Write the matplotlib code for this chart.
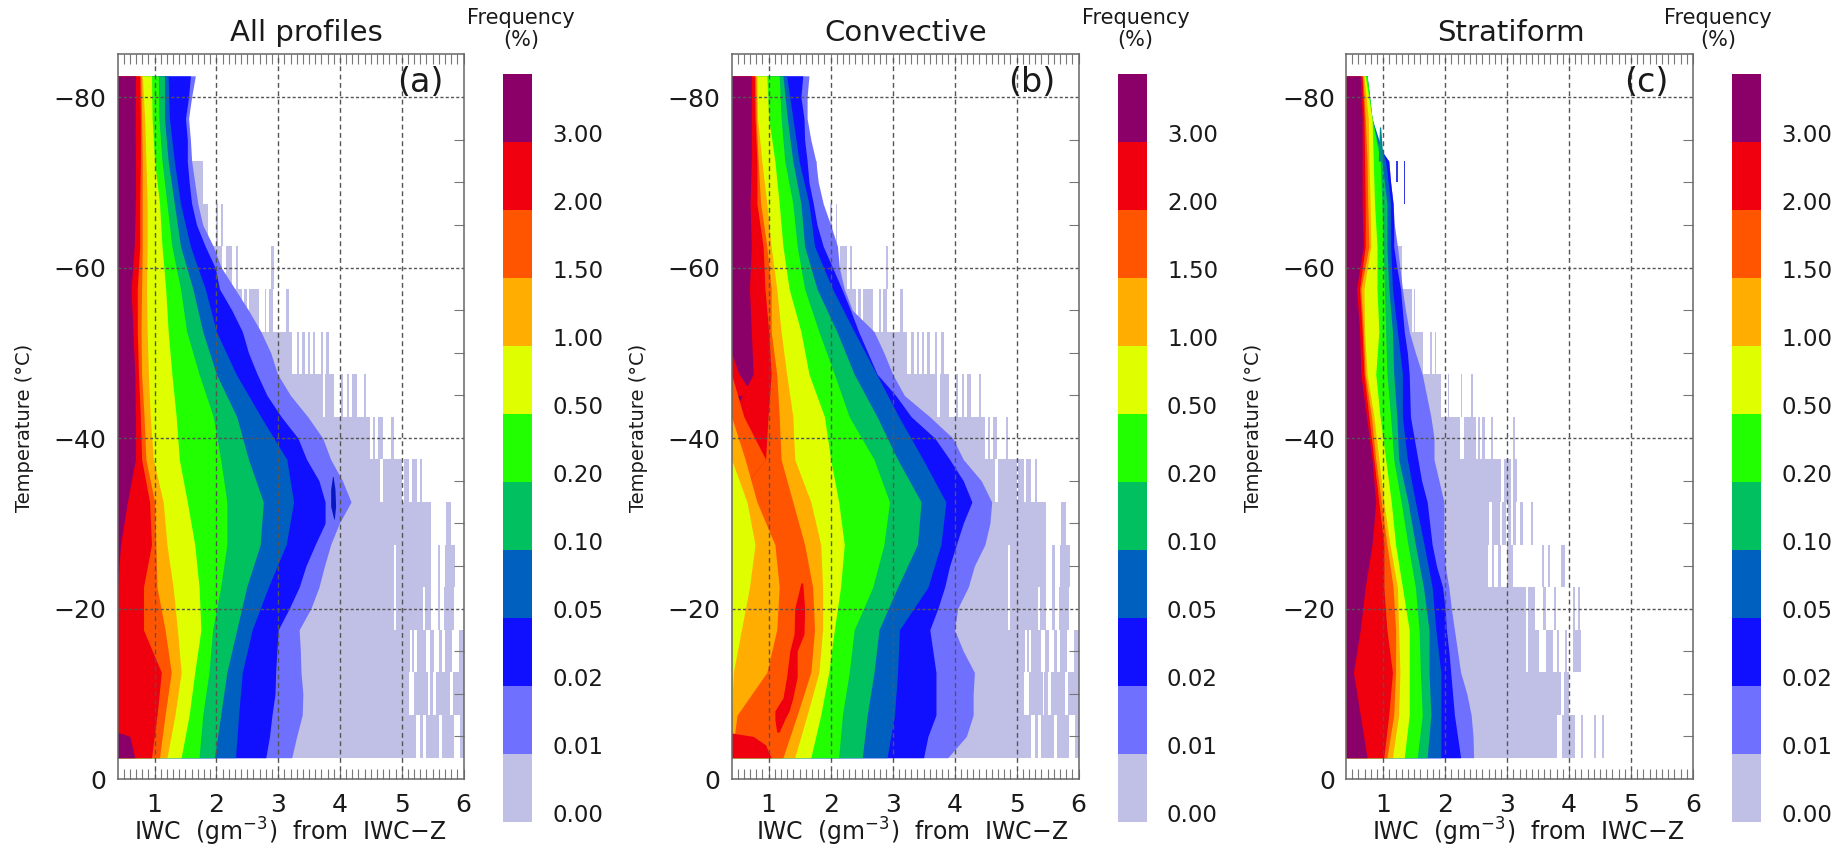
import matplotlib
matplotlib.use("Agg")
import matplotlib.pyplot as plt

W, H = 1845, 846
FONT = "DejaVu Sans"
plt.rcParams["font.family"] = [FONT]
plt.rcParams["mathtext.fontset"] = "custom"
plt.rcParams["mathtext.rm"] = FONT
plt.rcParams["mathtext.default"] = "regular"

# Frequency classes, low to high
LEVEL_LABELS = ["0.00", "0.01", "0.02", "0.05", "0.10", "0.20", "0.50", "1.00", "1.50", "2.00", "3.00"]
LEVEL_COLORS = ["#C0C0E6", "#7070FF", "#1010FF", "#0060C0", "#00C060", "#22FF00",
                "#DFFF00", "#FFAD00", "#FF5500", "#F0000F", "#8B0068"]
C_PALE, C_LIGHT, C_PURE, C_BLUE, C_SEA, C_GREEN, C_YELLOW, C_ORANGE, C_ORRED, C_RED, C_PURPLE = LEVEL_COLORS

T5 = [-82.5, -77.5, -72.5, -67.5, -62.5, -57.5, -52.5, -47.5, -42.5, -37.5, -32.5,
      -27.5, -22.5, -17.5, -12.5, -7.5, -2.5]
T25 = [-82.5, -80, -77.5, -75, -72.5, -70, -67.5, -65, -62.5, -60, -57.5, -55, -52.5, -50, -47.5, -45,
       -42.5, -40, -37.5, -35, -32.5, -30, -27.5, -25, -22.5, -20, -17.5, -15, -12.5, -10, -7.5, -5, -2.5]

# ---- Panel (a): right edge (IWC) of each class at each T5 level
A_PURPLE = [.69, .69, .69, .69, .67, .62, .65, .68, .69, .69, .56, .45, .40, .40, .40, .40, .40]
A_RED    = [.76, .77, .77, .76, .76, .72, .72, .74, .77, .79, .92, .95, .82, .82, 1.11, 1.04, .95]
A_ORRED  = [.78, .79, .80, .80, .80, .79, .78, .79, .83, .86, 1.0, 1.02, 1.04, 1.17, 1.27, 1.17, 1.08]
A_ORANGE = [.80, .84, .86, .88, .88, .87, .88, .90, .93, .98, 1.14, 1.2, 1.3, 1.37, 1.43, 1.33, 1.2]
A_YELLOW = [.95, .96, 1.0, 1.08, 1.12, 1.18, 1.22, 1.28, 1.35, 1.40, 1.53, 1.65, 1.72, 1.75, 1.65, 1.56, 1.43]
A_GREEN  = [1.06, 1.07, 1.12, 1.20, 1.28, 1.42, 1.52, 1.72, 1.95, 2.07, 2.17, 2.17, 2.07, 1.94, 1.88, 1.78, 1.72]
A_SEA    = [1.16, 1.16, 1.22, 1.32, 1.42, 1.62, 1.78, 2.0, 2.33, 2.52, 2.76, 2.71, 2.49, 2.33, 2.17, 2.07, 1.97]
A_BLUE   = [1.22, 1.24, 1.32, 1.42, 1.58, 1.82, 2.0, 2.32, 2.72, 3.14, 3.25, 3.13, 2.84, 2.58, 2.42, 2.36, 2.31]
A_PURE   = [1.58, 1.55, 1.50, 1.53, 1.53, 1.56, 1.60, 1.68, 1.82, 1.98, 2.05, 2.25, 2.42, 2.52, 2.66, 2.82,
            3.05, 3.32, 3.46, 3.66, 3.76, 3.76, 3.60, 3.45, 3.34, 3.18, 3.0, 2.98, 2.96, 2.95, 2.90, 2.86, 2.80]
A_LIGHT  = [1.66, 1.60, 1.55, 1.58, 1.60, 1.65, 1.70, 1.78, 1.95, 2.08, 2.30, 2.52, 2.72, 2.88, 2.99, 3.20,
            3.48, 3.72, 3.85, 4.04, 4.18, 3.99, 3.85, 3.75, 3.66, 3.53, 3.34, 3.36, 3.37, 3.40, 3.39, 3.30, 3.22]
A_ISLAND_T = [-35.5, -34, -32, -30.5]
A_ISLAND_L = [3.88, 3.85, 3.85, 3.90]
A_ISLAND_R = [3.89, 3.92, 3.93, 3.91]
A_FOOT_T = [-5.5, -5, -2.5]
A_FOOT_X = [.40, .60, .68]

# ---- Panel (b)
B_PURPLE = [.72, .72, .72, .70, .72, .69, .72, .75, .40, .40, .40, .40, .40, .40, .40, .40, .40]
B_RED    = [.77, .78, .81, .81, .91, .94, 1.0, 1.04, .99, .95, .40, .40, .40, .40, .40, .40, .40]
B_ORRED  = [.79, .80, .83, .87, .97, 1.04, 1.04, 1.13, 1.17, 1.20, 1.39, 1.58, 1.71, 1.74, 1.68, 1.46, 1.23]
B_ORANGE = [.81, .82, .89, .97, 1.04, 1.13, 1.2, 1.29, 1.39, 1.42, 1.68, 1.84, 1.87, 1.87, 1.81, 1.62, 1.42]
B_YELLOW = [.97, 1.0, 1.1, 1.17, 1.23, 1.33, 1.52, 1.65, 1.9, 2.0, 2.13, 2.22, 2.16, 2.06, 1.97, 1.84, 1.68]
B_GREEN  = [1.17, 1.2, 1.26, 1.39, 1.46, 1.58, 1.81, 2.06, 2.3, 2.70, 2.95, 2.86, 2.68, 2.38, 2.30, 2.19, 2.13]
B_SEA    = [1.23, 1.3, 1.39, 1.52, 1.58, 1.78, 2.1, 2.38, 2.75, 3.08, 3.46, 3.40, 3.08, 2.78, 2.70, 2.59, 2.51]
B_BLUE   = [1.29, 1.39, 1.49, 1.65, 1.74, 2.03, 2.38, 2.74, 3.10, 3.49, 3.86, 3.78, 3.57, 3.11, 3.08, 3.03, 2.91]
B_PURE   = [1.55, 1.52, 1.57, 1.58, 1.62, 1.65, 1.72, 1.78, 1.88, 2.03, 2.18, 2.32, 2.45, 2.60, 2.75, 3.05,
            3.30, 3.68, 3.92, 4.14, 4.28, 4.14, 4.03, 3.92, 3.84, 3.73, 3.60, 3.65, 3.70, 3.70, 3.70, 3.57, 3.50]
B_LIGHT  = [1.65, 1.62, 1.62, 1.68, 1.76, 1.80, 1.88, 2.0, 2.11, 2.14, 2.22, 2.35, 2.70, 2.86, 3.0, 3.19,
            3.60, 3.97, 4.14, 4.43, 4.60, 4.57, 4.49, 4.32, 4.22, 4.05, 4.0, 4.14, 4.32, 4.30, 4.30, 4.19, 3.89]
# Low-IWC side of panel (b): classes re-entered towards small IWC
B_LEFT_ORRED  = [.40, .40, .40, .40, .40, .40, .40, .40, .60, .95, .40, .40, .40, .40, .40, .40, .40]
B_LEFT_ORANGE = [.40, .40, .40, .40, .40, .40, .40, .40, .40, .62, .81, 1.10, 1.17, 1.13, .97, .49, .40]
B_LEFT_YELLOW = [.40, .40, .40, .40, .40, .40, .40, .40, .40, .40, .65, .78, .69, .56, .43, .40, .40]
B_WEDGE_T = [-50, -47.5, -45]
B_WEDGE_X = [.40, .52, .75]
B_ISLAND_T = [-23, -20, -17, -15, -12, -9.5, -8, -7, -5.5]
B_ISLAND_L = [1.52, 1.42, 1.41, 1.34, 1.29, 1.23, 1.10, 1.10, 1.13]
B_ISLAND_R = [1.55, 1.58, 1.57, 1.46, 1.46, 1.39, 1.33, 1.26, 1.17]
B_FOOT_T = [-5.4, -5, -4, -2.5]
B_FOOT_X = [.40, .75, .95, 1.04]

# ---- Panel (c)
C_PURPLE_E = [.63, .66, .66, .66, .68, .57, .62, .64, .73, .82, .88, .82, .71, .63, .52, .63, .74]
C_RED_E    = [.66, .69, .70, .71, .71, .62, .66, .69, .77, .85, .93, 1.01, 1.01, 1.06, 1.15, 1.09, 1.01]
C_ORRED_E  = [.67, .71, .74, .75, .77, .64, .68, .71, .81, .88, .97, 1.06, 1.16, 1.20, 1.20, 1.17, 1.06]
C_ORANGE_E = [.69, .76, .77, .79, .80, .69, .70, .74, .85, .93, 1.01, 1.11, 1.23, 1.25, 1.27, 1.25, 1.15]
C_YELLOW_E = [.71, .82, .84, .86, .90, .90, .93, .88, .95, 1.04, 1.13, 1.20, 1.31, 1.42, 1.42, 1.42, 1.34]
C_GREEN_E  = [.74, .82, .95, .98, 1.0, 1.02, 1.04, 1.06, 1.12, 1.17, 1.29, 1.40, 1.52, 1.58, 1.60, 1.63, 1.55]
C_SEA_E    = [.74, .82, .98, 1.06, 1.06, 1.09, 1.15, 1.17, 1.22, 1.25, 1.40, 1.52, 1.65, 1.74, 1.74, 1.77, 1.71]
C_BLUE_E   = [.74, .82, 1.04, 1.12, 1.12, 1.15, 1.23, 1.31, 1.31, 1.39, 1.52, 1.66, 1.79, 1.85, 1.93, 1.93, 1.93]
C_PURE_E   = [.74, .76, .82, .85, 1.09, 1.12, 1.16, 1.17, 1.17, 1.22, 1.28, 1.31, 1.34, 1.39, 1.42, 1.43,
              1.44, 1.50, 1.56, 1.62, 1.71, 1.75, 1.79, 1.86, 1.96, 2.0, 2.02, 2.06, 2.09, 2.12, 2.15, 2.20, 2.25]
C_LIGHT_E  = [.74, .76, .82, .85, 1.09, 1.12, 1.16, 1.18, 1.23, 1.27, 1.31, 1.36, 1.42, 1.52, 1.63, 1.70,
              1.77, 1.82, 1.82, 1.90, 1.98, 1.98, 1.98, 2.0, 2.06, 2.10, 2.15, 2.20, 2.25, 2.35, 2.42, 2.45, 2.46]
C_STREAK_T = [-76.5, -72.5]
C_STREAK_L = [.94, .92]
C_STREAK_R = [.96, 1.0]
C_ISO1 = (1.20, 1.24, -72.5, -70)
C_ISO2 = (1.335, 1.36, -72.5, -67.5)

# ---- Palest class: occupied IWC intervals inside each 5-degree band (band top temperature)
BAND_TOPS_AB = [-72.5, -67.5, -62.5, -57.5, -52.5, -47.5, -42.5, -37.5, -32.5, -27.5, -22.5, -17.5, -12.5, -7.5]
PALE_AB = [
    [(.4, 1.78)],
    [(.4, 1.86), (1.99, 2.02), (2.08, 2.10)],
    [(.4, 2.09), (2.15, 2.26), (2.31, 2.35), (2.89, 2.93)],
    [(.4, 2.41), (2.44, 2.49), (2.53, 2.69), (2.78, 2.81), (2.85, 2.91), (3.12, 3.17)],
    [(.4, 3.23), (3.30, 3.34), (3.39, 3.43), (3.48, 3.51), (3.56, 3.60), (3.69, 3.72), (3.78, 3.83)],
    [(.4, 3.72), (3.76, 3.91), (4.02, 4.05), (4.12, 4.15), (4.20, 4.27), (4.39, 4.43)],
    [(.4, 4.49), (4.54, 4.57), (4.62, 4.69), (4.83, 4.87)],
    [(.4, 4.65), (4.70, 5.0), (5.03, 5.12), (5.16, 5.24), (5.30, 5.33)],
    [(.4, 5.48), (5.72, 5.80)],
    [(.4, 4.87), (4.90, 5.48), (5.58, 5.62), (5.70, 5.86)],
    [(.4, 4.87), (4.90, 5.35), (5.38, 5.48), (5.58, 5.62), (5.68, 5.85)],
    [(.4, 5.13), (5.17, 5.20), (5.24, 5.40), (5.46, 5.53), (5.60, 5.65), (5.70, 5.82), (5.92, 6.0)],
    [(.4, 5.12), (5.20, 5.42), (5.45, 5.50), (5.55, 5.78), (5.83, 6.0)],
    [(.4, 5.23), (5.29, 5.35), (5.39, 5.61), (5.66, 5.85), (5.94, 6.0)],
]
BAND_TOPS_C = [-62.5, -57.5, -52.5, -47.5, -42.5, -37.5, -32.5, -27.5, -22.5, -17.5, -12.5, -7.5]
PALE_C = [
    [(.4, 1.30)],
    [(.4, 1.47), (1.50, 1.52)],
    [(.4, 1.64), (1.76, 1.78), (1.83, 1.85)],
    [(.4, 1.94), (2.04, 2.06), (2.25, 2.27), (2.41, 2.45)],
    [(.4, 2.24), (2.31, 2.50), (2.53, 2.56), (2.60, 2.64), (2.74, 2.78), (3.09, 3.13)],
    [(.4, 2.90), (2.95, 3.07), (3.10, 3.16)],
    [(.4, 2.70), (2.76, 2.88), (2.92, 2.99), (3.02, 3.06), (3.09, 3.15), (3.20, 3.25), (3.38, 3.42)],
    [(.4, 2.69), (2.76, 2.79), (2.85, 2.90), (3.0, 3.09), (3.56, 3.60), (3.66, 3.69), (3.87, 3.94)],
    [(.4, 3.30), (3.34, 3.45), (3.58, 3.62), (3.75, 3.79), (4.06, 4.09), (4.14, 4.17)],
    [(.4, 3.30), (3.34, 3.52), (3.63, 3.74), (3.80, 3.84), (3.93, 3.96), (4.07, 4.20)],
    [(.4, 3.87), (3.92, 4.0)],
    [(.4, 3.81), (3.88, 4.10), (4.20, 4.23), (4.40, 4.44), (4.53, 4.57)],
]

TITLES = ["All profiles", "Convective", "Stratiform"]
TAGS = ["(a)", "(b)", "(c)"]
X_TICKS = [1, 2, 3, 4, 5, 6]
X_MINOR = [round(0.5 + 0.1 * i, 1) for i in range(55)]
Y_TICKS = [0, -20, -40, -60, -80]
Y_MINOR = [-5 * i for i in range(1, 17)]

# Layout in pixels
AX_LEFT = [117.5, 731.5, 1346]
AX_RIGHT = [463.5, 1078.5, 1693]
AX_TOP, AX_BOTTOM = 54.5, 779
CB_LEFT = [503, 1117.5, 1732]
CB_RIGHT = [532, 1146.5, 1761]
CB_TOP, CB_BOTTOM = 73.7, 822.3
TITLE_X = [306, 905.5, 1511]
FREQ_X = [521, 1135.5, 1718]
TAG_X = [420, 1032, 1646]
YLAB_X = [25, 638.6, 1253.6]
XLAB_X = [290, 912, 1528]
CBTXT_X = [552.5, 1167, 1781.5]
TXT = "#1a1a1a"
GRIDC = "#555555"
FS_TICK, FS_TITLE, FS_TAG, FS_XLAB, FS_YLAB, FS_CB, FS_FREQ = 18, 21, 24, 17, 14, 16.5, 15

fig = plt.figure(figsize=(W / 100, H / 100), dpi=100)


def ftext(x, y, s, **kw):
    fig.text(x / W, 1 - y / H, s, color=TXT, ha=kw.pop("ha", "center"), va=kw.pop("va", "center"), **kw)


def fill_classes(ax, layers):
    for T, edge, col in layers:
        ax.fill_betweenx(T, 0.4, edge, color=col, lw=0, zorder=2)


PANELS = [
    dict(bands=(BAND_TOPS_AB, PALE_AB), layers=[
        (T25, A_LIGHT, C_LIGHT), (T25, A_PURE, C_PURE), (T5, A_BLUE, C_BLUE), (T5, A_SEA, C_SEA),
        (T5, A_GREEN, C_GREEN), (T5, A_YELLOW, C_YELLOW), (T5, A_ORANGE, C_ORANGE), (T5, A_ORRED, C_ORRED),
        (T5, A_RED, C_RED), (T5, A_PURPLE, C_PURPLE), (A_FOOT_T, A_FOOT_X, C_PURPLE)]),
    dict(bands=(BAND_TOPS_AB, PALE_AB), layers=[
        (T25, B_LIGHT, C_LIGHT), (T25, B_PURE, C_PURE), (T5, B_BLUE, C_BLUE), (T5, B_SEA, C_SEA),
        (T5, B_GREEN, C_GREEN), (T5, B_YELLOW, C_YELLOW), (T5, B_ORANGE, C_ORANGE), (T5, B_ORRED, C_ORRED),
        (T5, B_RED, C_RED), (T5, B_PURPLE, C_PURPLE), (B_WEDGE_T, B_WEDGE_X, C_RED),
        (T5, B_LEFT_ORRED, C_ORRED), (T5, B_LEFT_ORANGE, C_ORANGE), (T5, B_LEFT_YELLOW, C_YELLOW),
        (B_FOOT_T, B_FOOT_X, C_RED)]),
    dict(bands=(BAND_TOPS_C, PALE_C), layers=[
        (T25, C_LIGHT_E, C_LIGHT), (T25, C_PURE_E, C_PURE), (T5, C_BLUE_E, C_BLUE), (T5, C_SEA_E, C_SEA),
        (T5, C_GREEN_E, C_GREEN), (T5, C_YELLOW_E, C_YELLOW), (T5, C_ORANGE_E, C_ORANGE), (T5, C_ORRED_E, C_ORRED),
        (T5, C_RED_E, C_RED), (T5, C_PURPLE_E, C_PURPLE)]),
]

for i, p in enumerate(PANELS):
    ax = fig.add_axes([AX_LEFT[i] / W, 1 - AX_BOTTOM / H, (AX_RIGHT[i] - AX_LEFT[i]) / W, (AX_BOTTOM - AX_TOP) / H])
    ax.set_xlim(0.4, 6)
    ax.set_ylim(0, -85)
    for top, spans in zip(*p["bands"]):
        ax.broken_barh([(a, b - a) for a, b in spans], (top, 5), facecolors=C_PALE, lw=0, zorder=1.5)
    fill_classes(ax, p["layers"])
    if i == 0:
        ax.fill_betweenx(A_ISLAND_T, A_ISLAND_L, A_ISLAND_R, color="#0818C0", lw=0, zorder=2.1)
    if i == 1:
        ax.fill_betweenx(B_ISLAND_T, B_ISLAND_L, B_ISLAND_R, color=C_RED, lw=0, zorder=2.1)
    if i == 2:
        ax.fill_betweenx(C_STREAK_T, C_STREAK_L, C_STREAK_R, color="#008C8C", lw=0, zorder=2.1)
        for a, b, t0, t1 in (C_ISO1, C_ISO2):
            ax.fill_betweenx([t0, t1], a, b, color="#3838E0", lw=0, zorder=2.1)
    for v in X_TICKS[:-1]:
        ax.axvline(v, color=GRIDC, lw=1.0, ls=(0, (3.5, 2.5)), zorder=3)
    for v in Y_TICKS[1:]:
        ax.axhline(v, color=GRIDC, lw=1.0, ls=(0, (2.2, 1.6)), zorder=3)
    ax.set_xticks(X_TICKS)
    ax.set_xticklabels([str(v) for v in X_TICKS], fontsize=FS_TICK, color=TXT)
    ax.set_xticks(X_MINOR, minor=True)
    ax.set_yticks(Y_TICKS)
    ax.set_yticklabels(["0", "\u221220", "\u221240", "\u221260", "\u221280"], fontsize=FS_TICK, color=TXT)
    ax.set_yticks(Y_MINOR, minor=True)
    ax.tick_params(axis="x", which="both", direction="in", top=True, bottom=True, length=7.2, width=0.8,
                   color="#777777", pad=10)
    ax.tick_params(axis="y", which="minor", direction="in", left=False, right=True, length=7.2, width=0.8,
                   color="#777777")
    ax.tick_params(axis="y", which="major", direction="in", left=False, right=False, length=0, pad=8)
    for s in ax.spines.values():
        s.set_color("#666666")
        s.set_linewidth(1.1)
        s.set_zorder(4)
    ftext(TITLE_X[i], 33, TITLES[i], fontsize=FS_TITLE)
    ftext(TAG_X[i], 83, TAGS[i], fontsize=FS_TAG)
    ftext(XLAB_X[i], 832, r"IWC  (gm$^{-3}$)  from  IWC$-$Z", fontsize=FS_XLAB)
    ftext(YLAB_X[i], 428, "Temperature (\u00b0C)", rotation=90, fontsize=FS_YLAB)

    cax = fig.add_axes([CB_LEFT[i] / W, 1 - CB_BOTTOM / H, (CB_RIGHT[i] - CB_LEFT[i]) / W, (CB_BOTTOM - CB_TOP) / H])
    cax.bar(0, [1] * len(LEVEL_COLORS), width=1, bottom=list(range(len(LEVEL_COLORS))), color=LEVEL_COLORS, lw=0)
    cax.set_xlim(-.5, .5)
    cax.set_ylim(0, len(LEVEL_COLORS))
    cax.axis("off")
    seg = (CB_BOTTOM - CB_TOP) / len(LEVEL_COLORS)
    for k, lab in enumerate(LEVEL_LABELS):
        ftext(CBTXT_X[i], CB_BOTTOM - seg * k - 6.5, lab, ha="left", fontsize=FS_CB)
    ftext(FREQ_X[i], 18, "Frequency", fontsize=FS_FREQ)
    ftext(FREQ_X[i], 40, "(%)", fontsize=FS_FREQ)

fig.savefig("out.png", dpi=100)
